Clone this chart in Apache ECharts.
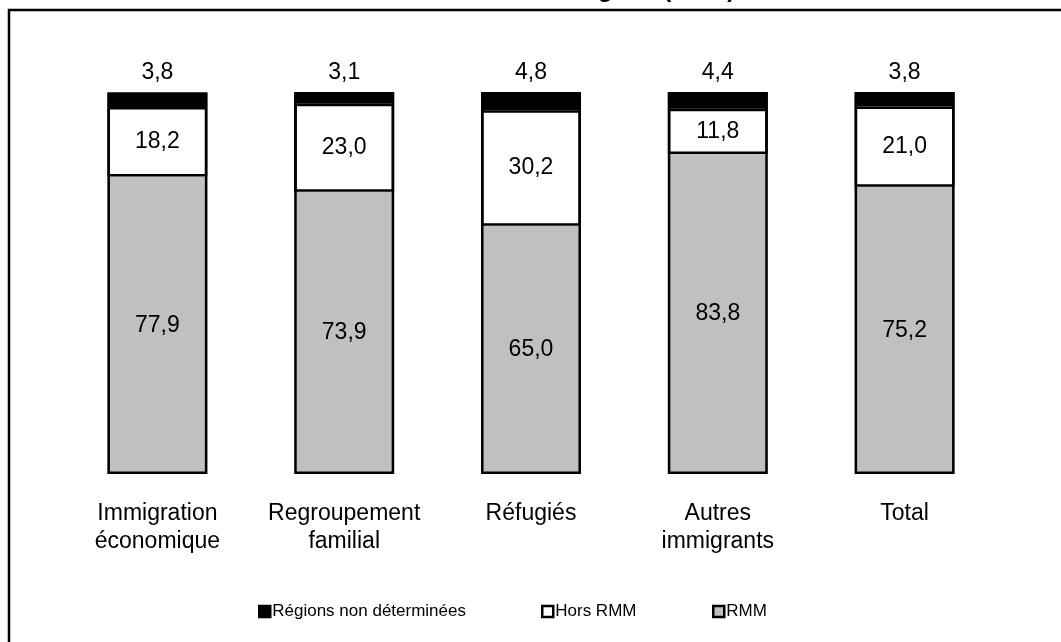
<!DOCTYPE html>
<html><head><meta charset="utf-8">
<script src="https://cdn.jsdelivr.net/npm/echarts@6/dist/echarts.min.js"></script>
<style>html,body{margin:0;padding:0;background:#fff}#c{width:1061px;height:642px}</style>
</head><body><div id="c"></div>
<script>
const categories = ['Immigration\néconomique', 'Regroupement\nfamilial', 'Réfugiés', 'Autres\nimmigrants', 'Total'];
const rmm = [77.9, 73.9, 65.0, 83.8, 75.2];
const horsRmm = [18.2, 23.0, 30.2, 11.8, 21.0];
const regionsNonDet = [3.8, 3.1, 4.8, 4.4, 3.8];
const totals = rmm.map((v, i) => v + horsRmm[i] + regionsNonDet[i]);

const FONT = 'Liberation Sans, Arial, sans-serif';
const fmt = p => p.value.toFixed(1).replace('.', ',');
const chart = echarts.init(document.getElementById('c'));
const legendBase = {
  icon: 'rect', itemWidth: 11, itemHeight: 11, itemGap: 0,
  top: 598, textStyle: {fontFamily: FONT, fontSize: 17, color: '#000', padding: [0,0,0,-3]},
  itemStyle: {borderColor: '#000', borderWidth: 2.5}
};
chart.setOption({
  animation: false,
  backgroundColor: '#fff',
  graphic: [
    {type: 'rect', shape: {x: 9, y: 10, width: 1100, height: 700}, style: {fill: 'none', stroke: '#000', lineWidth: 2.5}, silent: true},
    {type: 'text', x: 762, y: 2, style: {text: 'selon la catégorie (en %)  _', font: 'bold 24px ' + FONT, fill: '#000', textAlign: 'right', textVerticalAlign: 'bottom'}, silent: true}
  ],
  legend: [
    Object.assign({}, legendBase, {left: 253, data: ['Régions non déterminées']}),
    Object.assign({}, legendBase, {left: 536, data: ['Hors RMM']}),
    Object.assign({}, legendBase, {left: 707, data: ['RMM']})
  ],
  grid: {left: 64, right: 63, top: 92, bottom: 168},
  xAxis: {
    type: 'category', data: categories,
    axisLine: {show: false}, axisTick: {show: false},
    axisLabel: {fontFamily: FONT, fontSize: 23, color: '#000', margin: 26, lineHeight: 28, interval: 0}
  },
  yAxis: {type: 'value', min: 0, max: 100, show: false, splitLine: {show: false}},
  series: [
    {name: 'RMM', type: 'bar', stack: 's', barWidth: '53.5%', barGap: '-100%', data: rmm,
     itemStyle: {color: '#c0c0c0', borderColor: '#000', borderWidth: 0},
     label: {show: true, position: 'inside', formatter: fmt, fontFamily: FONT, fontSize: 23, color: '#000'}},
    {name: 'Hors RMM', type: 'bar', stack: 's', data: horsRmm,
     itemStyle: {color: '#fff', borderColor: '#000', borderWidth: 2.5},
     label: {show: true, position: 'inside', formatter: fmt, fontFamily: FONT, fontSize: 23, color: '#000'}},
    {name: 'Régions non déterminées', type: 'bar', stack: 's', data: regionsNonDet,
     itemStyle: {color: '#000', borderColor: '#000', borderWidth: 0},
     label: {show: true, position: 'top', distance: 8, formatter: fmt, fontFamily: FONT, fontSize: 23, color: '#000'}},
    {name: 'outline', type: 'bar', barWidth: '53.5%', barGap: '-100%', data: totals, z: 5, silent: true,
     itemStyle: {color: 'rgba(0,0,0,0)', borderColor: '#000', borderWidth: 2.5},
     label: {show: false}}
  ]
});
</script></body></html>
